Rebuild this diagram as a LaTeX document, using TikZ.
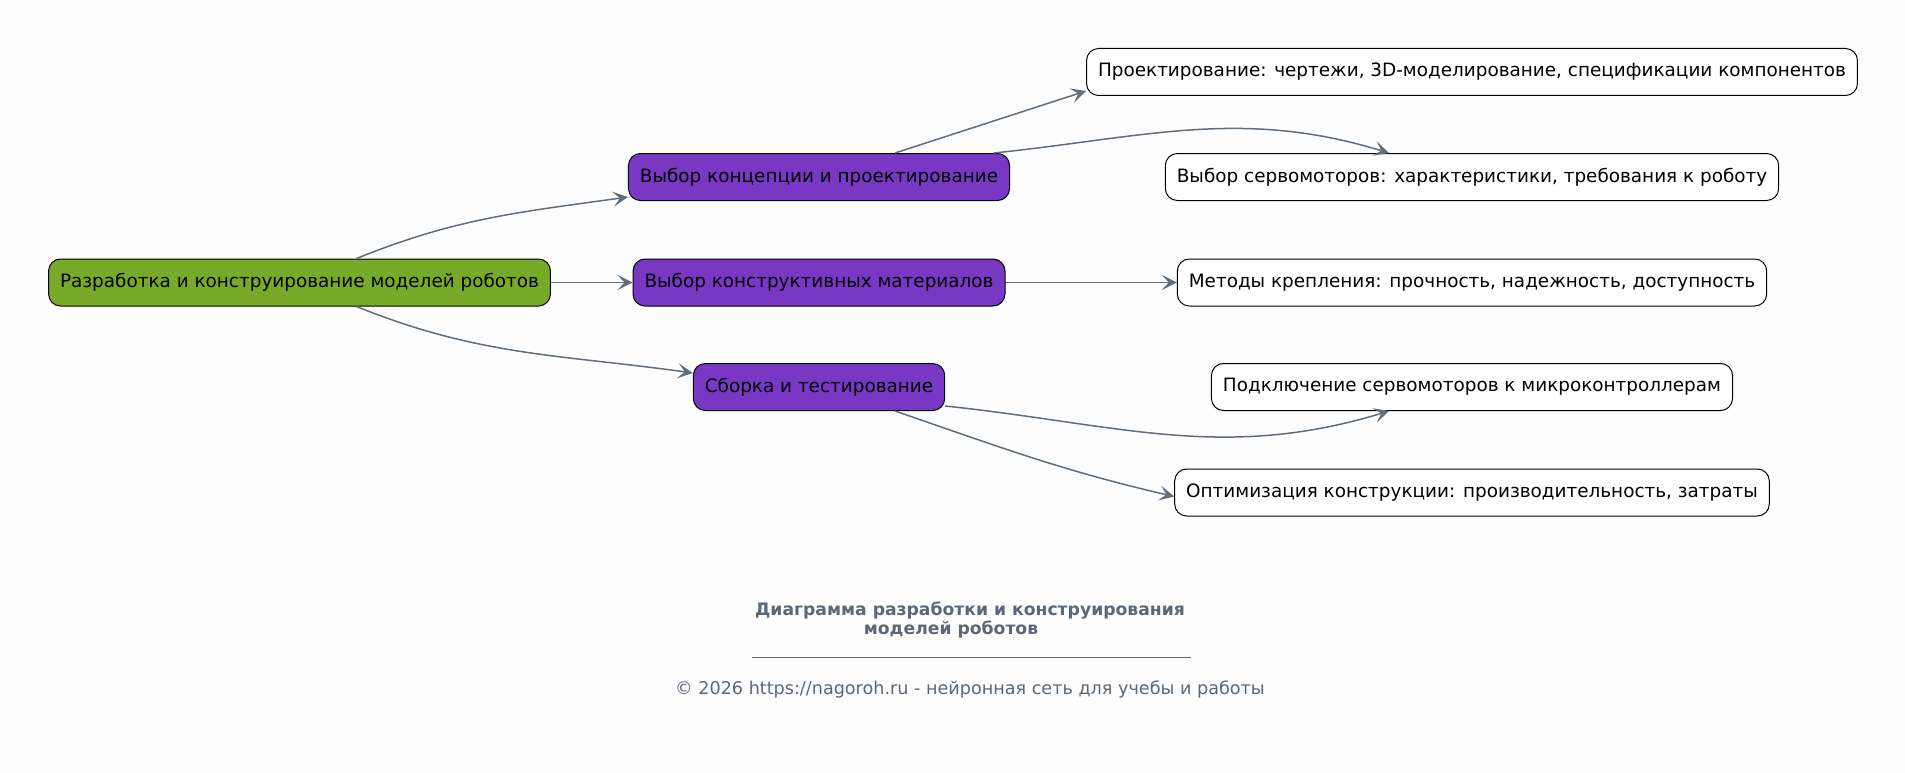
\documentclass[tikz,border=0pt]{standalone}
\usepackage{fontspec}
\setmainfont{DejaVu Sans}
\usepackage{tikz}
\usetikzlibrary{arrows.meta}

\definecolor{rootgreen}{HTML}{78AA2A}
\definecolor{branchviolet}{HTML}{7838C4}
\definecolor{edgegray}{HTML}{5F6E7D}
\definecolor{titlegray}{HTML}{5A6878}
\definecolor{bgpaper}{HTML}{FDFDFD}

\begin{document}
\begin{tikzpicture}[x=1pt,y=-1pt]
		\tikzstyle{BoxSty}=[draw=black,
								  line width=1pt,
								  rounded corners=12pt,
								  minimum height=47pt,
								  inner xsep=11.5pt,
								  font=\fontsize{18.4}{22}\selectfont]
		\tikzstyle{RootSty}=[BoxSty,fill=rootgreen]
		\tikzstyle{BranchSty}=[BoxSty,fill=branchviolet]
		\tikzstyle{LeafSty}=[BoxSty,fill=white]
		\tikzstyle{EdgeSty}=[-{Stealth[length=15pt,width=15pt,inset=7pt]},
								  draw=edgegray,line width=1.5pt]
		\tikzstyle{TitleSty}=[text=titlegray,font=\fontsize{17.2}{20}\selectfont\bfseries]
		\tikzstyle{NoteSty}=[text=titlegray,font=\fontsize{17.6}{20}\selectfont]

	% paper
	\fill[bgpaper] (0,0) rectangle (1905,773);
	\useasboundingbox (0,0) rectangle (1905,773);

	% root and branches
	\node [RootSty] at (299.5,282.5) (root) {Разработка и конструирование моделей роботов};
	\node [BranchSty] at (819,177) (concept) {Выбор концепции и проектирование};
	\node [BranchSty] at (819,282.5) (material) {Выбор конструктивных материалов};
	\node [BranchSty] at (819,387) (assembly) {Сборка и тестирование};

	% leaves
	\node [LeafSty] at (1472,72) (design) {Проектирование: чертежи, 3D-моделирование, спецификации компонентов};
	\node [LeafSty] at (1472,177) (servo) {Выбор сервомоторов: характеристики, требования к роботу};
	\node [LeafSty] at (1472,282.5) (mount) {Методы крепления: прочность, надежность, доступность};
	\node [LeafSty] at (1472,387) (wiring) {Подключение сервомоторов к микроконтроллерам};
	\node [LeafSty] at (1472,492.5) (optim) {Оптимизация конструкции: производительность, затраты};

	\draw[EdgeSty] ([xshift=57pt]root.north) to[out=22,in=188] ([yshift=-20pt]concept.west);
	\draw[EdgeSty] (root) -- (material);
	\draw[EdgeSty] ([xshift=57pt]root.south) to[out=-22,in=172] ([yshift=14pt]assembly.west);
	\draw[EdgeSty] ([xshift=76pt]concept.north) -- ([yshift=-19pt]design.west);
	\draw[EdgeSty] ([xshift=175pt]concept.north) to[out=6,in=163] ([xshift=-83pt]servo.north);
	\draw[EdgeSty] (material) -- (mount);
	\draw[EdgeSty] ([yshift=-19pt]assembly.east) to[out=-6,in=197] ([xshift=-83pt]wiring.south);
	\draw[EdgeSty] ([xshift=76pt]assembly.south) to[out=-19,in=167] ([yshift=-4pt]optim.west);

	% caption
	\node [TitleSty] at (970,611) (title) {Диаграмма разработки и конструирования};
	\node [TitleSty] at (951,629) (title2) {моделей роботов};
	\coordinate (ruleL) at (752,657);
	\coordinate (ruleR) at (1191,657);
	\draw[titlegray,line width=0.8pt] (ruleL) -- (ruleR);
	\node [NoteSty] at (970,689) (note) {© 2026 https://nagoroh.ru - нейронная сеть для учебы и работы};

\end{tikzpicture}
\end{document}
